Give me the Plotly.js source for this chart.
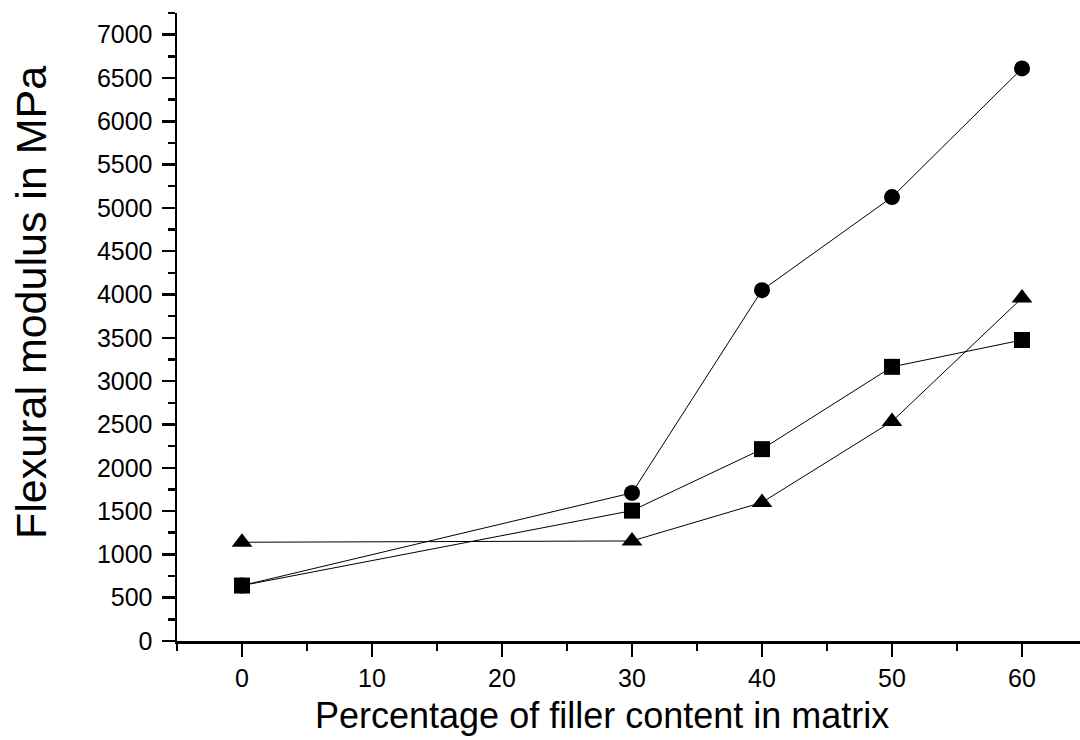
<!DOCTYPE html>
<html>
<head>
<meta charset="utf-8">
<script src="https://cdn.plot.ly/plotly-3.0.1.min.js"></script>
<style>html,body{margin:0;padding:0;background:#fff;}#chart{width:1080px;height:740px;}</style>
</head>
<body>
<div id="chart"></div>
<script>
const filler = [0, 30, 40, 50, 60];
const seriesCircle = [640, 1710, 4050, 5125, 6610];
const seriesSquare = [640, 1505, 2215, 3165, 3475];
const seriesTriangle = [1140, 1155, 1600, 2535, 3960];
const xTitle = "Percentage of filler content in matrix";
const yTitle = "Flexural modulus in MPa";

const line = {color: '#000', width: 1};
const traces = [
  {x: filler, y: seriesCircle, mode: 'lines+markers', line: line, marker: {symbol: 'circle', size: 16, color: '#000'}, cliponaxis: false},
  {x: filler, y: seriesSquare, mode: 'lines+markers', line: line, marker: {symbol: 'square', size: 16, color: '#000'}, cliponaxis: false},
  {x: filler, y: seriesTriangle, mode: 'lines+markers', line: line, marker: {symbol: 'triangle-up', size: 18, color: '#000'}, cliponaxis: false}
];
const fam = 'Liberation Sans, Arial, sans-serif';
const layout = {
  width: 1080, height: 740,
  margin: {l: 177, r: 0, t: 13, b: 99},
  showlegend: false,
  paper_bgcolor: '#fff', plot_bgcolor: '#fff',
  font: {family: fam, color: '#000'},
  xaxis: {
    range: [-5, 64.46], tick0: 0, dtick: 10, showgrid: false, zeroline: false,
    showline: true, linecolor: '#000', linewidth: 2.5,
    ticks: 'outside', ticklen: 13, tickwidth: 2.5, tickcolor: '#000',
    minor: {ticks: 'outside', ticklen: 7, tickwidth: 2.5, tickcolor: '#000', dtick: 5, tick0: 0, showgrid: false},
    tickfont: {family: fam, size: 25, color: '#000'}
  },
  yaxis: {
    range: [0, 7250], tick0: 0, dtick: 500, showgrid: false, zeroline: false,
    showline: true, linecolor: '#000', linewidth: 2.5,
    ticks: 'outside', ticklen: 13, tickwidth: 2.5, tickcolor: '#000',
    minor: {ticks: 'outside', ticklen: 7, tickwidth: 2.5, tickcolor: '#000', dtick: 250, tick0: 0, showgrid: false},
    tickfont: {family: fam, size: 25, color: '#000'}, ticklabelstandoff: 4
  },
  annotations: [
    {text: xTitle, xref: 'paper', yref: 'paper', x: (602 - 177) / 903, y: -(715 - 641) / 628,
     xanchor: 'center', yanchor: 'middle', showarrow: false,
     font: {family: fam, size: 36, color: '#000'}},
    {text: yTitle, xref: 'paper', yref: 'paper', x: -(177 - 31) / 903, y: (641 - 303) / 628,
     xanchor: 'center', yanchor: 'middle', showarrow: false, textangle: -90,
     font: {family: fam, size: 43, color: '#000'}}
  ]
};
Plotly.newPlot('chart', traces, layout, {displayModeBar: false, staticPlot: true});
</script>
</body>
</html>
